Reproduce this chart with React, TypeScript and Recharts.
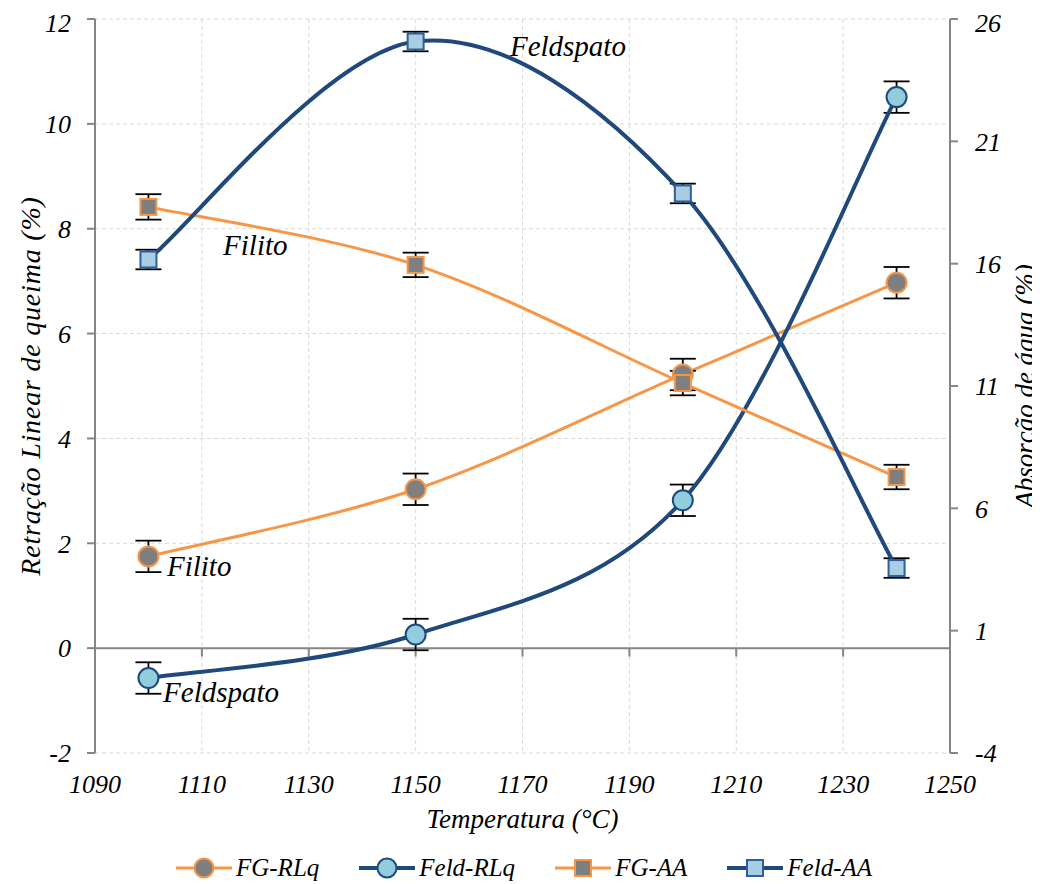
import {
  LineChart,
  Line,
  XAxis,
  YAxis,
  CartesianGrid,
  ErrorBar,
  ReferenceLine,
  ReferenceDot,
  Legend,
  Label,
} from "recharts";

// firing temperature (°C)
const temps = [1100, 1150, 1200, 1240];

// linear firing shrinkage (%), left axis
const fgRlq = [1.75, 3.03, 5.22, 6.97];
const fgRlqErr = [0.3, 0.3, 0.3, 0.3];
const feldRlq = [-0.57, 0.26, 2.82, 10.51];
const feldRlqErr = [0.3, 0.3, 0.3, 0.3];

// water absorption (%), right axis
const fgAa = [18.32, 15.95, 11.12, 7.28];
const fgAaErr = [0.52, 0.5, 0.5, 0.5];
const feldAa = [16.17, 25.08, 18.87, 3.56];
const feldAaErr = [0.4, 0.4, 0.4, 0.4];

const xTicks = [1090, 1110, 1130, 1150, 1170, 1190, 1210, 1230, 1250];
const leftTicks = [-2, 0, 2, 4, 6, 8, 10, 12];
const rightTicks = [-4, 1, 6, 11, 16, 21, 26];

const rows = temps.map((t, i) => ({
  temp: t,
  fgRlq: fgRlq[i],
  fgRlqErr: fgRlqErr[i],
  feldRlq: feldRlq[i],
  feldRlqErr: feldRlqErr[i],
  fgAa: fgAa[i],
  fgAaErr: fgAaErr[i],
  feldAa: feldAa[i],
  feldAaErr: feldAaErr[i],
}));

const FONT = "Liberation Serif";
const ORANGE = "#F79646";
const BLUE = "#1F497D";
const GRAY = "#7F7F7F";
const AXIS = "#868686";

// smoothed line like the spreadsheet one: bezier segments with 1/6 tangents
const smoothCurve = (context: any) => {
  let pts: number[][] = [];
  return {
    areaStart() {},
    areaEnd() {},
    lineStart() {
      pts = [];
    },
    point(x: number, y: number) {
      pts.push([+x, +y]);
    },
    lineEnd() {
      if (!pts.length) return;
      context.moveTo(pts[0][0], pts[0][1]);
      for (let i = 0; i < pts.length - 1; i++) {
        const p0 = pts[i - 1] || pts[i];
        const p1 = pts[i];
        const p2 = pts[i + 1];
        const p3 = pts[i + 2] || p2;
        context.bezierCurveTo(
          p1[0] + (p2[0] - p0[0]) / 6,
          p1[1] + (p2[1] - p0[1]) / 6,
          p2[0] - (p3[0] - p1[0]) / 6,
          p2[1] - (p3[1] - p1[1]) / 6,
          p2[0],
          p2[1]
        );
      }
    },
  };
};

const squareDot = (fill: string, stroke: string) => (p: any) => (
  <rect
    key={`sq-${p.index}-${fill}`}
    x={p.cx - 8}
    y={p.cy - 8}
    width={16}
    height={16}
    fill={fill}
    stroke={stroke}
    strokeWidth={2}
  />
);

const legendItems = [
  { name: "FG-RLq", line: ORANGE, width: 3, shape: "circle", fill: GRAY, stroke: ORANGE },
  { name: "Feld-RLq", line: BLUE, width: 4, shape: "circle", fill: "#92CDDC", stroke: BLUE },
  { name: "FG-AA", line: ORANGE, width: 3, shape: "square", fill: GRAY, stroke: ORANGE },
  { name: "Feld-AA", line: BLUE, width: 4, shape: "square", fill: "#A7CEE2", stroke: "#2F5F98" },
];

function LegendContent() {
  return (
    <div
      style={{
        display: "flex",
        justifyContent: "center",
        alignItems: "center",
        gap: 40,
        height: 30,
      }}
    >
      {legendItems.map((it) => (
        <div key={it.name} style={{ display: "flex", alignItems: "center" }}>
          <svg width={56} height={24}>
            <line x1={0} x2={56} y1={12} y2={12} stroke={it.line} strokeWidth={it.width} />
            {it.shape === "circle" ? (
              <circle cx={28} cy={12} r={9.5} fill={it.fill} stroke={it.stroke} strokeWidth={2} />
            ) : (
              <rect x={20} y={4} width={16} height={16} fill={it.fill} stroke={it.stroke} strokeWidth={2} />
            )}
          </svg>
          <span
            style={{
              fontFamily: FONT,
              fontStyle: "italic",
              fontSize: 25,
              marginLeft: 4,
              color: "#000",
            }}
          >
            {it.name}
          </span>
        </div>
      ))}
    </div>
  );
}

const tickStyle = { fontFamily: FONT, fontStyle: "italic", fontSize: 26, fill: "#000" };
const titleStyle = { fontFamily: FONT, fontStyle: "italic", fontSize: 27, fill: "#000" };
const noteStyle = { fontFamily: FONT, fontStyle: "italic", fontSize: 29, fill: "#000" };

const notes = [
  { text: "Feldspato", x: 1178.5, y: 11.49 },
  { text: "Filito", x: 1120, y: 7.69 },
  { text: "Filito", x: 1109.5, y: 1.57 },
  { text: "Feldspato", x: 1113.6, y: -0.84 },
];

export default function App() {
  return (
    <LineChart
      width={1032}
      height={876}
      data={rows}
      margin={{ top: 11, right: 0, bottom: 1, left: 0 }}
    >
      <CartesianGrid yAxisId="left" stroke="#D9D9D9" strokeDasharray="4 3" />
      <XAxis
        dataKey="temp"
        type="number"
        domain={[1090, 1250]}
        ticks={xTicks}
        axisLine={false}
        tickLine={false}
        tickSize={6}
        tickMargin={16}
        height={100}
        tick={tickStyle}
      >
        <Label value="Temperatura (°C)" position="insideBottom" offset={25} style={titleStyle} />
      </XAxis>
      <YAxis
        yAxisId="left"
        domain={[-2, 12]}
        ticks={leftTicks}
        width={87}
        axisLine={{ stroke: AXIS, strokeWidth: 2 }}
        tickLine={{ stroke: AXIS, strokeWidth: 2 }}
        tickSize={8}
        tickMargin={16}
        tick={tickStyle}
      >
        <Label
          value="Retração Linear de queima (%)"
          angle={-90}
          position="insideLeft"
          offset={22}
          style={{ ...titleStyle, fontSize: 28, letterSpacing: 0.8, textAnchor: "middle" }}
        />
      </YAxis>
      <YAxis
        yAxisId="right"
        orientation="right"
        domain={[-4, 26]}
        ticks={rightTicks}
        width={90}
        axisLine={{ stroke: AXIS, strokeWidth: 2 }}
        tickLine={{ stroke: AXIS, strokeWidth: 2 }}
        tickSize={8}
        tickMargin={17}
        tick={tickStyle}
      >
        <Label
          value="Absorção de água (%)"
          angle={-90}
          position="insideRight"
          offset={16}
          style={{ ...titleStyle, textAnchor: "middle" }}
        />
      </YAxis>

      {/* horizontal axis crossing at zero, with its tick marks */}
      <ReferenceLine yAxisId="left" y={0} stroke={AXIS} strokeWidth={2} />
      {xTicks.map((t) => (
        <ReferenceLine
          key={`xt-${t}`}
          yAxisId="left"
          segment={[
            { x: t, y: 0 },
            { x: t, y: -0.16 },
          ]}
          stroke={AXIS}
          strokeWidth={2}
        />
      ))}

      <Line
        yAxisId="left"
        dataKey="fgRlq"
        type={smoothCurve as any}
        stroke={ORANGE}
        strokeWidth={3}
        dot={{ r: 10, fill: GRAY, stroke: ORANGE, strokeWidth: 2 }}
        activeDot={false}
        isAnimationActive={false}
      >
        <ErrorBar dataKey="fgRlqErr" width={13} stroke="#000" strokeWidth={1.8} direction="y" isAnimationActive={false} />
      </Line>
      <Line
        yAxisId="left"
        dataKey="feldRlq"
        type={smoothCurve as any}
        stroke={BLUE}
        strokeWidth={4}
        dot={{ r: 10, fill: "#92CDDC", stroke: BLUE, strokeWidth: 2 }}
        activeDot={false}
        isAnimationActive={false}
      >
        <ErrorBar dataKey="feldRlqErr" width={13} stroke="#000" strokeWidth={1.8} direction="y" isAnimationActive={false} />
      </Line>
      <Line
        yAxisId="right"
        dataKey="fgAa"
        type={smoothCurve as any}
        stroke={ORANGE}
        strokeWidth={3}
        dot={squareDot(GRAY, ORANGE)}
        activeDot={false}
        isAnimationActive={false}
      >
        <ErrorBar dataKey="fgAaErr" width={13} stroke="#000" strokeWidth={1.8} direction="y" isAnimationActive={false} />
      </Line>
      <Line
        yAxisId="right"
        dataKey="feldAa"
        type={smoothCurve as any}
        stroke={BLUE}
        strokeWidth={4}
        dot={squareDot("#A7CEE2", "#2F5F98")}
        activeDot={false}
        isAnimationActive={false}
      >
        <ErrorBar dataKey="feldAaErr" width={13} stroke="#000" strokeWidth={1.8} direction="y" isAnimationActive={false} />
      </Line>

      {notes.map((n, i) => (
        <ReferenceDot
          key={`note-${i}`}
          yAxisId="left"
          x={n.x}
          y={n.y}
          r={0}
          fill="none"
          stroke="none"
          label={{ value: n.text, position: "center", style: noteStyle }}
        />
      ))}

      <Legend verticalAlign="bottom" content={<LegendContent />} />
    </LineChart>
  );
}
